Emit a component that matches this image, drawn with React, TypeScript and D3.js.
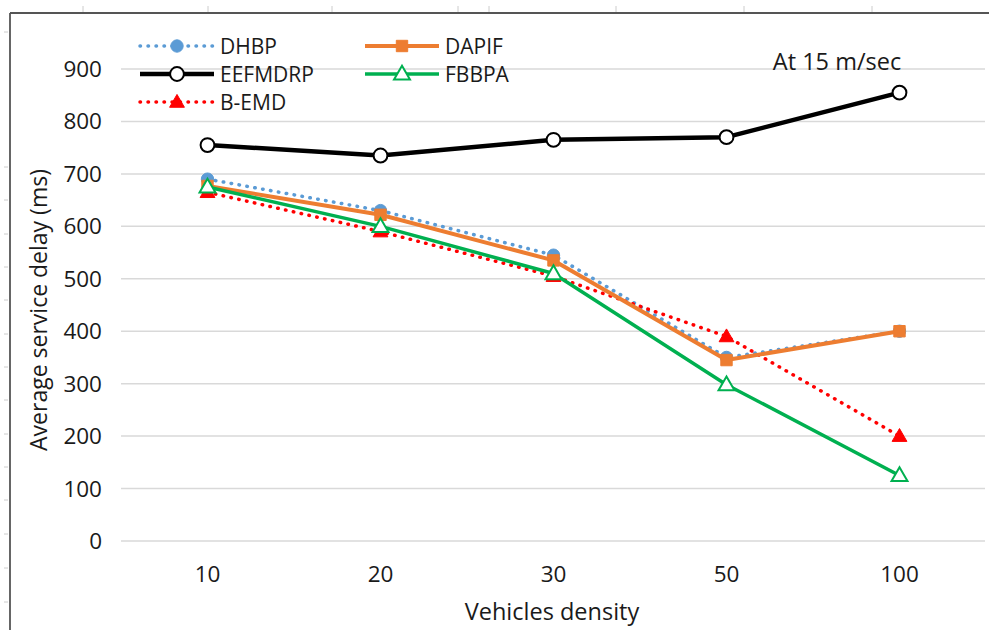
import React, { useRef, useEffect } from 'react';
import * as d3 from 'd3';

const categories = ['10', '20', '30', '50', '100'];
const yTicks = [0, 100, 200, 300, 400, 500, 600, 700, 800, 900];

const dhbp = [690, 630, 545, 350, 400];
const dapif = [677, 622, 535, 345, 400];
const eefmdrp = [755, 735, 765, 770, 855];
const fbbpa = [675, 600, 510, 298, 125];
const bemd = [665, 590, 505, 390, 200];

interface Series {
  name: string;
  values: number[];
  color: string;
  width: number;
  dotted: boolean;
  marker: 'circle' | 'square' | 'triangle';
  hollow: boolean;
  size: number;
}

const SERIES: Series[] = [
  { name: 'DHBP', values: dhbp, color: '#5b9bd5', width: 3.5, dotted: true, marker: 'circle', hollow: false, size: 120 },
  { name: 'B-EMD', values: bemd, color: '#ff0000', width: 3.5, dotted: true, marker: 'triangle', hollow: false, size: 95 },
  { name: 'DAPIF', values: dapif, color: '#ed7d31', width: 4, dotted: false, marker: 'square', hollow: false, size: 130 },
  { name: 'FBBPA', values: fbbpa, color: '#00b050', width: 3.5, dotted: false, marker: 'triangle', hollow: true, size: 110 },
  { name: 'EEFMDRP', values: eefmdrp, color: '#000000', width: 4.5, dotted: false, marker: 'circle', hollow: true, size: 150 },
];

// legend layout: [series name, column, row]
const LEGEND: [string, number, number][] = [
  ['DHBP', 0, 0],
  ['DAPIF', 1, 0],
  ['EEFMDRP', 0, 1],
  ['FBBPA', 1, 1],
  ['B-EMD', 0, 2],
];

const FONT = "'Open Sans', 'Liberation Sans', sans-serif";
const INK = '#1a1a1a';

const symbolFor = (m: Series['marker']) =>
  m === 'circle' ? d3.symbolCircle : m === 'square' ? d3.symbolSquare : d3.symbolTriangle;

export default function App() {
  const svgRef = useRef<SVGSVGElement>(null);
  const width = 989;
  const height = 630;

  useEffect(() => {
    if (!svgRef.current) return;
    const svg = d3.select(svgRef.current);
    svg.selectAll('*').remove();

    svg.append('rect').attr('width', width).attr('height', height).attr('fill', '#fff');

    // page frame with ruler marks (cropped screenshot)
    svg.append('line')
      .attr('x1', 10).attr('x2', width).attr('y1', 13).attr('y2', 13)
      .attr('stroke', '#555').attr('stroke-width', 1.8);
    svg.append('line')
      .attr('x1', 10).attr('x2', 10).attr('y1', 13).attr('y2', height)
      .attr('stroke', '#555').attr('stroke-width', 1.8);
    [83, 208, 332, 458, 489, 616, 744, 872].forEach((x) => {
      svg.append('line').attr('x1', x).attr('x2', x).attr('y1', 6).attr('y2', 12)
        .attr('stroke', '#ccc').attr('stroke-width', 1);
    });
    [32, 167, 200, 234, 267, 300, 334, 367, 400, 434, 467, 500, 534, 568, 602].forEach((y) => {
      svg.append('line').attr('x1', 4).attr('x2', 8).attr('y1', y).attr('y2', y)
        .attr('stroke', '#ccc').attr('stroke-width', 1);
    });

    const x = d3.scaleBand().domain(categories).range([121, 986]);
    const y = d3.scaleLinear().domain([0, 900]).range([541, 69]);
    const cx = (c: string) => (x(c) as number) + x.bandwidth() / 2;

    // gridlines
    svg.append('g')
      .selectAll('line')
      .data(yTicks)
      .enter()
      .append('line')
      .attr('x1', 121).attr('x2', 985)
      .attr('y1', (d) => y(d)).attr('y2', (d) => y(d))
      .attr('stroke', '#d9d9d9').attr('stroke-width', 1.5);

    // y tick labels
    svg.append('g')
      .selectAll('text')
      .data(yTicks)
      .enter()
      .append('text')
      .attr('x', 102)
      .attr('y', (d) => y(d) + 8)
      .attr('text-anchor', 'end')
      .attr('font-family', FONT)
      .attr('font-size', '22.5px')
      .attr('fill', INK)
      .text((d) => d);

    // x tick labels
    svg.append('g')
      .selectAll('text')
      .data(categories)
      .enter()
      .append('text')
      .attr('x', (d) => cx(d))
      .attr('y', 582)
      .attr('text-anchor', 'middle')
      .attr('font-family', FONT)
      .attr('font-size', '22.5px')
      .attr('fill', INK)
      .text((d) => d);

    // axis titles
    svg.append('text')
      .attr('x', 552).attr('y', 620)
      .attr('text-anchor', 'middle')
      .attr('font-family', FONT).attr('font-size', '23.5px').attr('fill', INK)
      .text('Vehicles density');
    svg.append('text')
      .attr('transform', 'translate(47,310) rotate(-90)')
      .attr('text-anchor', 'middle')
      .attr('font-family', FONT).attr('font-size', '23px').attr('fill', INK)
      .text('Average service delay (ms)');

    svg.append('text')
      .attr('x', 837).attr('y', 70)
      .attr('text-anchor', 'middle')
      .attr('font-family', FONT).attr('font-size', '23.5px').attr('fill', INK)
      .text('At 15 m/sec');

    const line = d3.line<number>()
      .x((_, i) => cx(categories[i]))
      .y((d) => y(d));

    const drawMarker = (g: d3.Selection<SVGGElement, unknown, null, undefined>, s: Series, px: number, py: number) => {
      g.append('path')
        .attr('d', d3.symbol().type(symbolFor(s.marker)).size(s.size)())
        .attr('transform', `translate(${px},${py + (s.marker === 'triangle' ? 1 : 0)})`)
        .attr('fill', s.hollow ? '#fff' : s.color)
        .attr('stroke', s.color)
        .attr('stroke-width', s.hollow ? 2 : 1);
    };

    SERIES.forEach((s) => {
      const g = svg.append('g');
      g.append('path')
        .attr('d', line(s.values))
        .attr('fill', 'none')
        .attr('stroke', s.color)
        .attr('stroke-width', s.width)
        .attr('stroke-linejoin', 'round')
        .attr('stroke-linecap', s.dotted ? 'round' : 'butt')
        .attr('stroke-dasharray', s.dotted ? '0.5,7.5' : null);
      s.values.forEach((v, i) => drawMarker(g, s, cx(categories[i]), y(v)));
    });

    // legend
    const legend = svg.append('g');
    LEGEND.forEach(([name, col, row]) => {
      const s = SERIES.find((d) => d.name === name)!;
      const x0 = 140 + col * 225;
      const ly = 46 + row * 28;
      const g = legend.append('g');
      g.append('line')
        .attr('x1', x0).attr('x2', x0 + 74)
        .attr('y1', ly).attr('y2', ly)
        .attr('stroke', s.color)
        .attr('stroke-width', s.width)
        .attr('stroke-linecap', s.dotted ? 'round' : 'butt')
        .attr('stroke-dasharray', s.dotted ? '0.5,7.5' : null);
      drawMarker(g, s, x0 + 37, ly);
      g.append('text')
        .attr('x', x0 + 80).attr('y', ly + 7.5)
        .attr('font-family', FONT).attr('font-size', '21px').attr('fill', INK)
        .text(name);
    });
  }, []);

  return (
    <svg
      ref={svgRef}
      width={width}
      height={height}
      style={{ position: 'absolute', left: 0, top: 0, display: 'block' }}
    />
  );
}
